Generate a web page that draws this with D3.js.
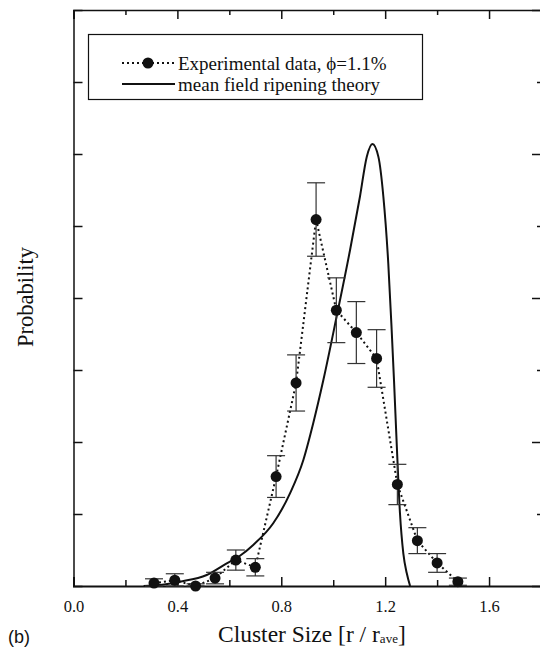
<!DOCTYPE html>
<html>
<head>
<meta charset="utf-8">
<script src="https://cdn.jsdelivr.net/npm/d3@7"></script>
<style>
  body { margin: 0; background: #fff; }
  svg { display: block; }
</style>
</head>
<body>
<svg width="540" height="652"></svg>
<script>
// experimental data (cluster size r/rave, probability, error)
var expX   = [0.31, 0.39, 0.47, 0.545, 0.625, 0.70, 0.78, 0.857, 0.934, 1.012, 1.089, 1.167, 1.247, 1.324, 1.40, 1.48];
var expY   = [0.04, 0.08, 0.0, 0.11, 0.36, 0.26, 1.52, 2.82, 5.09, 3.83, 3.52, 3.16, 1.41, 0.63, 0.32, 0.06];
var expErr = [0.06, 0.09, 0.03, 0.08, 0.14, 0.12, 0.29, 0.39, 0.51, 0.45, 0.43, 0.40, 0.28, 0.18, 0.13, 0.05];

// mean field ripening theory curve
var theoryX = [0.27, 0.333, 0.41, 0.513, 0.59, 0.641, 0.692, 0.769, 0.834, 0.885, 0.923, 0.962, 1.013, 1.065, 1.103, 1.129, 1.151, 1.174, 1.193, 1.212, 1.225, 1.234, 1.245, 1.257, 1.270, 1.283, 1.296];
var theoryY = [0.0, 0.014, 0.06, 0.153, 0.315, 0.42, 0.57, 0.871, 1.29, 1.75, 2.26, 2.86, 3.74, 4.67, 5.41, 5.96, 6.14, 5.96, 5.41, 4.48, 3.56, 2.86, 1.93, 1.01, 0.45, 0.18, 0.0];

var xTicks = [0.0, 0.4, 0.8, 1.2, 1.6];
var xMinor = [0.2, 0.6, 1.0, 1.4, 1.8];
var yMajor = [2, 4, 6];
var yMinor = [1, 3, 5, 7];

var svg = d3.select("svg");
var serif = "'Liberation Serif', 'Times New Roman', serif";

var x = d3.scaleLinear().domain([0, 1.8]).range([73.5, 541]);
var y = d3.scaleLinear().domain([0, 8]).range([586, 10]);

var g = svg.append("g");

// frame axes
g.append("g").attr("transform", "translate(0," + y(0) + ")")
    .call(d3.axisBottom(x).tickValues(xTicks).tickSize(-9).tickPadding(14).tickFormat(d3.format(".1f")))
    .call(function(a) {
        a.select(".domain").attr("stroke-width", 2);
        a.selectAll("text").attr("font-family", serif).attr("font-size", 16.5).attr("fill", "#111");
    });
g.append("g").attr("transform", "translate(0," + y(0) + ")")
    .call(d3.axisBottom(x).tickValues(xMinor).tickSize(-6).tickFormat(""))
    .select(".domain").remove();

g.append("g").attr("transform", "translate(0," + y(8) + ")")
    .call(d3.axisTop(x).tickValues(xTicks).tickSize(-9).tickFormat(""))
    .select(".domain").attr("stroke-width", 1.5);
g.append("g").attr("transform", "translate(0," + y(8) + ")")
    .call(d3.axisTop(x).tickValues(xMinor).tickSize(-5).tickFormat(""))
    .select(".domain").remove();

g.append("g").attr("transform", "translate(" + x(0) + ",0)")
    .call(d3.axisLeft(y).tickValues(yMajor.concat(yMinor)).tickSize(-9).tickFormat(""))
    .select(".domain").attr("stroke-width", 1.5);

g.append("g").attr("transform", "translate(" + x(1.8) + ",0)")
    .call(d3.axisRight(y).tickValues(yMajor).tickSize(-9).tickFormat(""))
    .select(".domain").attr("stroke-width", 1.5);
g.append("g").attr("transform", "translate(" + x(1.8) + ",0)")
    .call(d3.axisRight(y).tickValues(yMinor).tickSize(-4).tickFormat(""))
    .select(".domain").remove();

g.selectAll(".tick line").attr("stroke", "#111").attr("stroke-width", 1.5);
g.selectAll(".domain").attr("stroke", "#111");

// theory line
var theory = theoryX.map(function(d, i) { return [d, theoryY[i]]; });
g.append("path")
    .datum(theory)
    .attr("fill", "none")
    .attr("stroke", "#111")
    .attr("stroke-width", 2)
    .attr("d", d3.line().x(function(d) { return x(d[0]); }).y(function(d) { return y(d[1]); }).curve(d3.curveMonotoneX));

// experimental
var exp = expX.map(function(d, i) { return {x: d, y: expY[i], e: expErr[i]}; });

g.append("path")
    .datum(exp)
    .attr("fill", "none")
    .attr("stroke", "#111")
    .attr("stroke-width", 2)
    .attr("stroke-dasharray", "2,3")
    .attr("d", d3.line().x(function(d) { return x(d.x); }).y(function(d) { return y(d.y); }));

var err = g.selectAll("g.err").data(exp).enter().append("g").attr("class", "err")
    .attr("stroke", "#333").attr("stroke-width", 1.2);
err.append("line")
    .attr("x1", function(d) { return x(d.x); }).attr("x2", function(d) { return x(d.x); })
    .attr("y1", function(d) { return y(d.y + d.e); }).attr("y2", function(d) { return y(Math.max(0, d.y - d.e)); });
err.append("line")
    .attr("x1", function(d) { return x(d.x) - 9; }).attr("x2", function(d) { return x(d.x) + 9; })
    .attr("y1", function(d) { return y(d.y + d.e); }).attr("y2", function(d) { return y(d.y + d.e); });
err.append("line")
    .attr("x1", function(d) { return x(d.x) - 9; }).attr("x2", function(d) { return x(d.x) + 9; })
    .attr("y1", function(d) { return y(Math.max(0, d.y - d.e)); }).attr("y2", function(d) { return y(Math.max(0, d.y - d.e)); });

g.selectAll("circle.pt").data(exp).enter().append("circle")
    .attr("class", "pt")
    .attr("cx", function(d) { return x(d.x); })
    .attr("cy", function(d) { return y(d.y); })
    .attr("r", 5.5)
    .attr("fill", "#111");

// legend
var lg = svg.append("g");
lg.append("rect").attr("x", 88.5).attr("y", 34.5).attr("width", 334).attr("height", 65)
    .attr("fill", "#fff").attr("stroke", "#111").attr("stroke-width", 1.2);
lg.append("line").attr("x1", 122).attr("x2", 175).attr("y1", 63).attr("y2", 63)
    .attr("stroke", "#111").attr("stroke-width", 2).attr("stroke-dasharray", "2,3");
lg.append("circle").attr("cx", 148).attr("cy", 63).attr("r", 5.5).attr("fill", "#111");
lg.append("line").attr("x1", 122).attr("x2", 175).attr("y1", 84).attr("y2", 84)
    .attr("stroke", "#111").attr("stroke-width", 2);
lg.append("text").attr("x", 178).attr("y", 70).attr("font-family", serif).attr("font-size", 19)
    .attr("fill", "#111").text("Experimental data, \u03d5=1.1%");
lg.append("text").attr("x", 178).attr("y", 91).attr("font-family", serif).attr("font-size", 19)
    .attr("fill", "#111").text("mean field ripening theory");

// axis titles
var xt = svg.append("text").attr("x", 218).attr("y", 642).attr("font-family", serif)
    .attr("font-size", 23.5).attr("fill", "#111");
xt.append("tspan").text("Cluster Size [r / r");
xt.append("tspan").attr("font-size", 13).attr("dy", 1).text("ave");
xt.append("tspan").attr("dy", -1).text("]");

svg.append("text").attr("transform", "translate(33,297) rotate(-90)")
    .attr("text-anchor", "middle").attr("font-family", serif).attr("font-size", 22.5)
    .attr("fill", "#111").text("Probability");

svg.append("text").attr("x", 8).attr("y", 643).attr("font-family", "'Liberation Sans', Arial, sans-serif")
    .attr("font-size", 18).attr("fill", "#111").text("(b)");
</script>
</body>
</html>
